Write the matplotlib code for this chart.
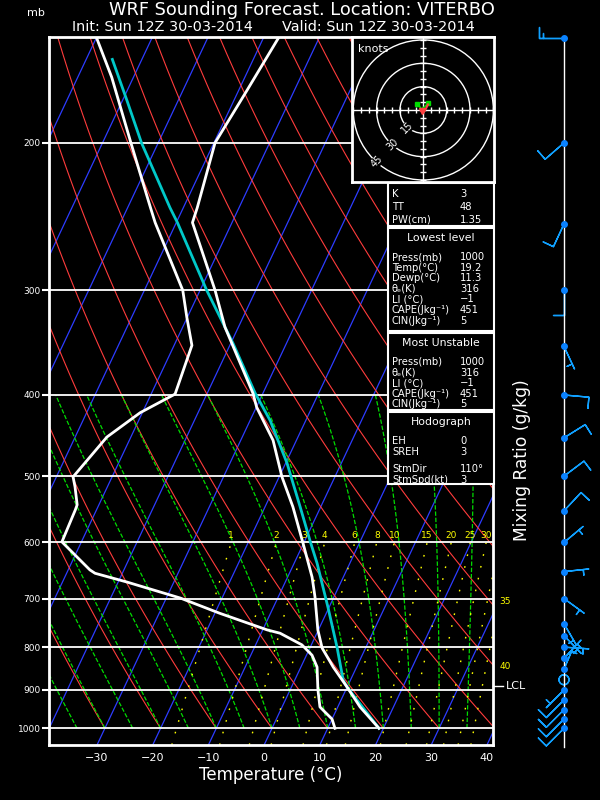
import numpy as np
import matplotlib.pyplot as plt
from matplotlib.patches import Rectangle, Circle
from matplotlib.transforms import ScaledTranslation

# temperatura (hPa, °C)
pres_t = [1000, 943, 893, 845, 802, 763, 697, 660, 600, 544, 501, 453, 414, 398,
          332, 300, 249, 239, 200, 173, 150]
temp = [19.2, 14.0, 10.0, 5.8, 2.2, -0.1, -3.4, -5.6, -10.2, -15.0, -19.5, -24.2, -29.9, -31.8,
        -42.4, -47.3, -57.1, -57.5, -59.8, -58.5, -57.3]

# punto di rugiada
pres_d = [1000, 975, 956, 943, 900, 845, 818, 795, 770, 763, 729, 699, 669, 653, 647,
          599, 549, 541, 515, 501, 449, 420, 399, 349, 323, 300, 249, 239, 200, 167, 150]
dewp = [11.3, 10.0, 8.1, 6.8, 5.0, 2.9, 1.0, -1.7, -6.6, -9.2, -19.1, -27.5, -38.4, -44.9, -46.1,
        -53.5, -53.8, -53.9, -55.8, -57.0, -54.3, -50.4, -45.7, -46.8, -50.1, -53.1, -63.8, -65.9,
        -74.9, -83.9, -89.9]

# particella sollevata (linea ciano)
pres_pcl = [1000, 978, 893, 876, 800, 717, 635, 599, 544, 482, 429, 398, 347, 300, 249, 239, 200, 178, 159]
temp_pcl = [19.2, 17.4, 10.0, 8.7, 4.8, -0.2, -5.9, -8.9, -13.7, -19.8, -26.4, -31.4, -39.6, -48.8,
            -59.8, -62.4, -73.0, -79.2, -85.3]

# vento: direzione (gradi) e velocita' (kt)
wind_p = [150, 200, 250, 300, 350, 400, 450, 500, 550, 600, 650, 700, 750, 775, 800, 825, 850,
          875, 900, 925, 950, 975, 1000]
wind_dir = [270, 229, 205, 180, 155, 95, 58, 53, 43, 50, 84, 126, 150, 136, 94, 43, 23,
            0, 225, 225, 225, 225, 225]
wind_spd = [15, 10, 10, 10, 5, 10, 10, 10, 10, 5, 5, 5, 5, 5, 5, 5, 5,
            0, 5, 10, 10, 10, 10]

p_levels = [200, 300, 400, 500, 600, 700, 800, 900, 1000]
t_ticks = [-30, -20, -10, 0, 10, 20, 30, 40]
mix_ratios = [1, 2, 3, 4, 6, 8, 10, 15, 20, 25, 30, 35, 40]
theta_dry = np.arange(-30, 201, 10)     # °C
theta_w = np.arange(-35, 36, 5)         # °C

table1 = [("K", "3"), ("TT", "48"), ("PW(cm)", "1.35")]
table2 = [("Press(mb)", "1000"), ("Temp(°C)", "19.2"), ("Dewp(°C)", "11.3"),
          ("θₑ(K)", "316"), ("LI (°C)", "−1"), ("CAPE(Jkg⁻¹)", "451"),
          ("CIN(Jkg⁻¹)", "5")]
table3 = [("Press(mb)", "1000"), ("θₑ(K)", "316"), ("LI (°C)", "−1"),
          ("CAPE(Jkg⁻¹)", "451"), ("CIN(Jkg⁻¹)", "5")]
table4 = [("EH", "0"), ("SREH", "3"), ("StmDir", "110°"), ("StmSpd(kt)", "3")]

PB, PT = 1047.0, 149.5
K = 30.8   # skew


def skew(t, p):
    return np.asarray(t, float) + K * np.log(PB / np.asarray(p, float))


def moist_adiabat(tw, p):
    # integrazione pseudoadiabatica semplice
    T = tw + 273.15
    out = [T]
    for i in range(1, len(p)):
        dp = p[i] - p[i - 1]
        def rate(T, pp):
            es = 6.112 * np.exp(17.67 * (T - 273.15) / (T - 29.65))
            rs = 0.622 * es / (pp - es)
            return (287.04 * T + 2.501e6 * rs) / (1005.7 + 2.501e6 ** 2 * rs * 0.622 / (287.04 * T * T)) / pp
        k1 = rate(T, p[i - 1])
        k2 = rate(T + k1 * dp, p[i])
        T = T + 0.5 * (k1 + k2) * dp
        out.append(T)
    return np.array(out) - 273.15


def mixing_td(w, p):
    e = w * p / (622.0 + w)
    a = np.log(e / 6.112)
    return 243.5 * a / (17.67 - a)


def px(x, y):
    return x / 600, 1 - y / 800


fig = plt.figure(figsize=(6, 8), dpi=100, facecolor='black')
ax = fig.add_axes([49 / 600, 55 / 800, 444 / 600, 708 / 800])
ax.set_facecolor('black')
ax.set_yscale('log')
ax.set_ylim(PB, PT)
ax.set_xlim(-38.62, 41.09)

# isoterme
for t in range(-100, 41, 10):
    ax.plot(skew([t, t], [PB, PT]), [PB, PT], color='#2d3cff', lw=0.9)

# adiabatiche secche
pp = np.linspace(1000, PT, 120)
for th in theta_dry:
    tt = (th + 273.15) * (pp / 1000.0) ** 0.2857 - 273.15
    ax.plot(skew(tt, pp), pp, color='#ff3c3c', lw=0.8)

# adiabatiche umide
pm = np.linspace(1000, 400, 121)
for tw in theta_w:
    ax.plot(skew(moist_adiabat(tw, pm), pm), pm, color='#00dc00', lw=0.9, dashes=(3.5, 1.5))

# rapporto di mescolanza
pw = np.linspace(PB, 600, 60)
xmax = ax.get_xlim()[1]
up = ax.transData + ScaledTranslation(0, 2 / 100, fig.dpi_scale_trans)
for w in mix_ratios:
    xs = skew(mixing_td(w, pw), pw)
    ax.plot(xs, pw, color='#ffff00', lw=1.0, dashes=(1.2, 7.5))
    if xs[-1] <= xmax:
        ax.text(xs[-1], 600, str(w), color='#ffff00', fontsize=6.5, ha='center', va='bottom',
                transform=up)
ax.text(1.015, np.log(PB / 706) / np.log(PB / PT), "35", color='#ffff00', fontsize=6.5,
        transform=ax.transAxes, va='center', ha='left')
ax.text(1.015, np.log(PB / 843) / np.log(PB / PT), "40", color='#ffff00', fontsize=6.5,
        transform=ax.transAxes, va='center', ha='left')

# linee delle pressioni
for p in p_levels:
    ax.axhline(p, color='white', lw=1.3)

# profili
ax.plot(skew(temp_pcl, pres_pcl), pres_pcl, color='#00c8c8', lw=2)
ax.plot(skew(temp, pres_t), pres_t, color='white', lw=2)
ax.plot(skew(dewp, pres_d), pres_d, color='white', lw=2)

# LCL
ylcl = np.log(PB / 890) / np.log(PB / PT)
ax.plot([1.0, 1.022], [ylcl, ylcl], color='white', lw=1, transform=ax.transAxes, clip_on=False)
ax.text(1.028, ylcl, "LCL", color='white', fontsize=8, va='center', ha='left', transform=ax.transAxes)

ax.set_yticks(p_levels)
ax.set_yticklabels([str(p) for p in p_levels])
ax.yaxis.set_minor_locator(plt.NullLocator())
ax.set_xticks(t_ticks)
ax.set_xticklabels([str(t).replace('-', '−') for t in t_ticks])
ax.tick_params(axis='y', colors='white', length=5, width=1.5, labelsize=6.5, pad=1)
ax.tick_params(axis='x', colors='white', length=0, labelsize=8, pad=6)
for s in ax.spines.values():
    s.set_color('white')
    s.set_linewidth(2)
ax.set_xlabel("Temperature (°C)", color='white', fontsize=12, labelpad=2)

# titoli
fig.text(302 / 600, 1 - 10 / 800, "WRF Sounding Forecast. Location: VITERBO", color='white',
         fontsize=12.8, ha='center', va='center')
fig.text(72 / 600, 1 - 27 / 800, "Init: Sun 12Z 30-03-2014", color='white', fontsize=10.4, va='center')
fig.text(282 / 600, 1 - 27 / 800, "Valid: Sun 12Z 30-03-2014", color='white', fontsize=10.4, va='center')
fig.text(36 / 600, 1 - 13 / 800, "mb", color='white', fontsize=8, ha='center', va='center')
fig.text(522 / 600, 1 - 460 / 800, "Mixing Ratio (g/kg)", color='white', fontsize=12.3,
         rotation=90, ha='center', va='center')

# odografo
axh = fig.add_axes([352 / 600, 1 - 182 / 800, 142 / 600, 145 / 800], zorder=5)
axh.set_facecolor('black')
axh.set_xlim(-45.8, 45.4)
axh.set_ylim(-46.3, 46.9)
axh.set_xticks([])
axh.set_yticks([])
for s in axh.spines.values():
    s.set_color('white')
    s.set_linewidth(2)
for r in [15, 30, 45]:
    axh.add_patch(Circle((0, 0), r, fill=False, ec='white', lw=1))
    a = np.radians(228)
    axh.text(r * np.cos(a), r * np.sin(a), str(r), color='white', fontsize=7, rotation=45,
             ha='center', va='center', bbox=dict(fc='black', ec='none', pad=0.3))
axh.axhline(0, color='white', lw=1)
axh.axvline(0, color='white', lw=1)
tk = np.arange(-45, 46, 5)
axh.plot(tk, np.zeros_like(tk), '|', color='white', ms=4, mew=1)
axh.plot(np.zeros_like(tk), tk, '_', color='white', ms=4, mew=1)
axh.text(0.04, 0.95, "knots", color='white', fontsize=8, transform=axh.transAxes, va='top')
axh.plot([-3.9, -1, 3.2], [3.9, 0.5, 4.2], color='#00dc00', lw=1.2)
axh.plot([-3.9, 3.2], [3.9, 4.2], 's', color='#00dc00', ms=3)
axh.plot([-1.5, 0, 1.5, 3], [-0.5, -1.8, 0.5, 3.5], color='#ff4040', lw=1.5)
axh.plot([-0.8], [-0.5], 'v', color='#ff4040', ms=5)

# tabelle
boxes = [(183, 226, None, table1), (228, 331, "Lowest level", table2),
         (333, 410, "Most Unstable", table3), (412, 484, "Hodograph", table4)]
for y0, y1, head, rows in boxes:
    fig.add_artist(Rectangle(px(388, y1), 106 / 600, (y1 - y0) / 800, transform=fig.transFigure,
                             facecolor='black', edgecolor='white', lw=1.5, zorder=5))
    y = y0 + 11
    if head:
        fig.text(441 / 600, 1 - (y0 + 10) / 800, head, color='white', fontsize=7.8, ha='center',
                 va='center', zorder=6)
        y = y0 + 29
    step = 10.6 if head else 13
    for lab, val in rows:
        fig.text(392 / 600, 1 - y / 800, lab, color='white', fontsize=7.2, va='center', zorder=6)
        fig.text(460 / 600, 1 - y / 800, val, color='white', fontsize=7.2, va='center', zorder=6)
        y += step
        if lab == "SREH":
            y += 7

# colonna del vento
axw = fig.add_axes([520 / 600, 55 / 800, 80 / 600, 708 / 800])
axw.set_facecolor('none')
axw.set_yscale('log')
axw.set_ylim(PB, PT)
axw.set_xlim(-44, 36)
axw.axis('off')
axw.plot([0, 0], [1053, PT], color='white', lw=1, clip_on=False)
wd = np.radians(wind_dir)
spd = np.array(wind_spd, float)
u = -spd * np.sin(wd)
v = -spd * np.cos(wd)
axw.barbs(np.zeros(len(wind_p)), wind_p, u, v, length=6, color='#10a0ff', lw=1,
          sizes=dict(height=0.45, width=0.0, spacing=0.15, emptybarb=0.2), clip_on=False)
moving = spd > 0
axw.plot(np.zeros(moving.sum()), np.array(wind_p)[moving], 'o', color='#0a82ff', ms=4, clip_on=False)

fig.savefig("out.png", dpi=100, facecolor='black')
